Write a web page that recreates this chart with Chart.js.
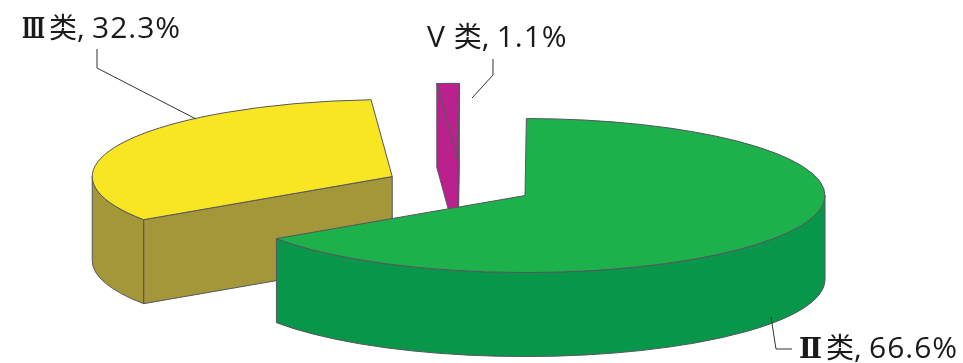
<!DOCTYPE html>
<html>
<head>
<meta charset="utf-8">
<style>
  html, body { margin: 0; padding: 0; background: #ffffff; }
  canvas { display: block; }
</style>
<script src="https://cdn.jsdelivr.net/npm/chart.js@4/dist/chart.umd.js"></script>
</head>
<body>
<canvas id="pie" width="963" height="363"></canvas>
<script>
// Water quality classes and their share, in drawing order (back slices first).
const categories = ['Ⅲ类', 'V 类', 'Ⅱ类'];
const shares = [32.3, 1.1, 66.6];

const topColors = ['#f9e622', '#bb218c', '#1db14b'];
const wallColors = ['#a3973a', '#bb218c', '#07964a'];
const explode = [78, 100, 74];

const tilt = 0.2567;        // vertical squash of the pie plane
const perspective = 0.083;  // how much the near half of the disc is magnified
const thickness = 84;       // height of the extruded slab in pixels
const edgeColor = '#55555f';
const cjkFont = '28px "Noto Sans CJK SC", sans-serif';
const valueFont = '30px "Open Sans", sans-serif';
const numeralFont = 'bold 28px "DejaVu Serif"';

// Label anchors and the elbow leader lines that tie them to the slices.
const callouts = [
  { x: 22, y: 38, leader: [[97, 49], [97, 68], [196, 119]] },
  { x: 427, y: 47, leader: [[493, 59], [493, 75], [472, 98]] },
  { x: 799, y: 358, leader: [[771, 317], [776, 349], [792, 349]] }
];

// Projective view of a circle: the same point seen from a nearer camera.
function perspectiveAngle(theta) {
  const s = Math.sin(theta), c = Math.cos(theta);
  const d = 1 + perspective * s;
  const seen = Math.atan2(
    (s + perspective) / d,
    c * Math.sqrt(1 - perspective * perspective) / d
  );
  const turns = Math.round((theta - seen) / (2 * Math.PI));
  return seen + turns * 2 * Math.PI;
}

// Screen position of a slice once the pie plane has been squashed by the tilt.
function sliceGeometry(arc, planeY) {
  const cx = arc.x;
  const cy = planeY + tilt * (arc.y - planeY);
  const r = arc.outerRadius;
  return {
    cx, cy, r, ry: r * tilt,
    at: a => [cx + r * Math.cos(a), cy + r * tilt * Math.sin(a)]
  };
}

function planeOf(chart) {
  return (chart.chartArea.top + chart.chartArea.bottom) / 2;
}

function strokeFill(ctx, fill) {
  ctx.fillStyle = fill;
  ctx.fill();
  ctx.strokeStyle = edgeColor;
  ctx.lineWidth = 1;
  ctx.lineJoin = 'round';
  ctx.stroke();
}

function drawCutFace(ctx, g, angle, fill) {
  const [ex, ey] = g.at(angle);
  ctx.beginPath();
  ctx.moveTo(g.cx, g.cy);
  ctx.lineTo(ex, ey);
  ctx.lineTo(ex, ey + thickness);
  ctx.lineTo(g.cx, g.cy + thickness);
  ctx.closePath();
  strokeFill(ctx, fill);
}

function drawRimWall(ctx, g, from, to, fill) {
  ctx.beginPath();
  ctx.ellipse(g.cx, g.cy, g.r, g.ry, 0, from, to);
  ctx.ellipse(g.cx, g.cy + thickness, g.r, g.ry, 0, to, from, true);
  ctx.closePath();
  strokeFill(ctx, fill);
}

// Writes "numeral + 类, value%". Roman numerals sit in a 27px cell and use a
// heavier serif face fitted to the cell; Latin and Han text use their own fonts.
function drawLabel(ctx, category, value, x, y) {
  let pen = x;
  let rest = category;
  if (/^[Ⅰ-Ⅻ]/.test(category)) {
    ctx.font = numeralFont;
    const w = ctx.measureText(category[0]).width;
    ctx.save();
    ctx.translate(pen, y);
    ctx.scale(23 / w, 1);
    ctx.fillText(category[0], 0, 0);
    ctx.restore();
    pen += 27;
    rest = category.slice(1);
  } else {
    const latin = category.match(/^[A-Z]+ /)[0];
    ctx.font = valueFont;
    ctx.fillText(latin, pen, y);
    pen += ctx.measureText(latin).width + 1;
    rest = category.slice(latin.length);
  }
  ctx.font = cjkFont;
  ctx.fillText(rest, pen, y);
  pen += ctx.measureText(rest).width;
  ctx.font = valueFont;
  ctx.fillText(',', pen, y);
  pen += 15;
  ctx.letterSpacing = '1px';
  ctx.fillText(value.toFixed(1) + '%', pen, y);
  ctx.letterSpacing = '0px';
}

const slabPlugin = {
  id: 'slab',
  // Pull each slice away from the common centre along its mid angle, then
  // correct the slice angles for the viewing perspective.
  afterDatasetsUpdate(chart) {
    chart.getDatasetMeta(0).data.forEach((arc, i) => {
      const mid = (arc.startAngle + arc.endAngle) / 2;
      arc.x += Math.cos(mid) * explode[i];
      arc.y += Math.sin(mid) * explode[i];
      arc.startAngle = perspectiveAngle(arc.startAngle);
      arc.endAngle = perspectiveAngle(arc.endAngle);
      arc.circumference = arc.endAngle - arc.startAngle;
    });
  },
  // Side walls go underneath; the library's arcs then paint the top faces.
  beforeDatasetsDraw(chart) {
    const ctx = chart.ctx;
    const planeY = planeOf(chart);
    chart.getDatasetMeta(0).data.forEach((arc, i) => {
      const g = sliceGeometry(arc, planeY);
      const { startAngle: a0, endAngle: a1 } = arc;
      if (Math.cos(a0) < 0) drawCutFace(ctx, g, a0, wallColors[i]);
      if (Math.cos(a1) > 0) drawCutFace(ctx, g, a1, wallColors[i]);
      // The rim faces the viewer only on the lower half of the ellipse.
      [0, 2 * Math.PI].forEach(turn => {
        const lo = Math.max(a0, turn);
        const hi = Math.min(a1, turn + Math.PI);
        if (hi > lo) drawRimWall(ctx, g, lo, hi, wallColors[i]);
      });
    });
    ctx.save();
    ctx.translate(0, planeY);
    ctx.scale(1, tilt);
    ctx.translate(0, -planeY);
  },
  afterDatasetsDraw(chart) {
    const ctx = chart.ctx;
    ctx.restore();
    const planeY = planeOf(chart);
    // Outline the top faces at a constant width, outside the squashed transform.
    chart.getDatasetMeta(0).data.forEach(arc => {
      const g = sliceGeometry(arc, planeY);
      ctx.beginPath();
      ctx.moveTo(g.cx, g.cy);
      ctx.ellipse(g.cx, g.cy, g.r, g.ry, 0, arc.startAngle, arc.endAngle);
      ctx.closePath();
      ctx.strokeStyle = edgeColor;
      ctx.lineWidth = 1;
      ctx.stroke();
    });
    // Callouts
    ctx.textBaseline = 'alphabetic';
    ctx.textAlign = 'left';
    callouts.forEach((c, i) => {
      ctx.beginPath();
      c.leader.forEach(([x, y], k) => k ? ctx.lineTo(x, y) : ctx.moveTo(x, y));
      ctx.strokeStyle = '#333333';
      ctx.lineWidth = 1;
      ctx.stroke();
      ctx.fillStyle = '#1a1a1a';
      drawLabel(ctx, categories[i], shares[i], c.x, c.y);
    });
  }
};

new Chart(document.getElementById('pie'), {
  type: 'pie',
  data: {
    labels: categories,
    datasets: [{
      data: shares,
      backgroundColor: topColors,
      borderWidth: 0,
      clip: false
    }]
  },
  options: {
    responsive: false,
    animation: false,
    rotation: 240,
    radius: 300,
    layout: { padding: { top: 9, right: 41, left: 0, bottom: 0 } },
    events: [],
    plugins: { legend: { display: false }, tooltip: { enabled: false } }
  },
  plugins: [slabPlugin]
});
</script>
</body>
</html>
